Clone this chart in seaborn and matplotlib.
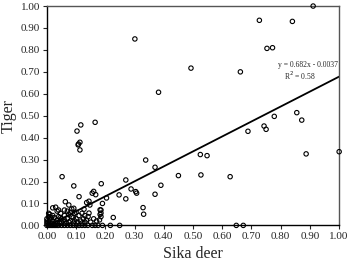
import numpy as np
import seaborn as sns
import matplotlib.pyplot as plt

# sika deer (x) vs tiger (y) occupancy
deer_high = [0.911, 0.727, 0.840, 0.753, 0.772, 0.493, 0.662, 0.301, 0.382,
             0.116, 0.165, 0.103, 0.108, 0.113, 0.107, 0.113]
tiger_high = [1.000, 0.935, 0.930, 0.807, 0.810, 0.717, 0.700, 0.850, 0.607,
              0.458, 0.470, 0.430, 0.371, 0.379, 0.367, 0.344]

deer_mid = [0.778, 0.855, 0.872, 0.743, 0.750, 0.688, 0.525, 0.548, 0.527,
            0.627, 0.887, 1.000, 0.450, 0.648, 0.672, 0.338, 0.370, 0.270,
            0.288, 0.304, 0.307, 0.390, 0.370, 0.247, 0.270, 0.204, 0.186,
            0.190, 0.329, 0.331, 0.227, 0.217, 0.249, 0.052, 0.092, 0.110]
tiger_mid = [0.497, 0.514, 0.480, 0.453, 0.438, 0.429, 0.323, 0.318, 0.230,
             0.222, 0.326, 0.336, 0.227, 0.000, 0.000, 0.298, 0.265, 0.207,
             0.166, 0.154, 0.147, 0.183, 0.142, 0.139, 0.121, 0.125, 0.190,
             0.100, 0.081, 0.051, 0.036, 0.000, 0.000, 0.222, 0.180, 0.131]

deer_low = [0.155, 0.167, 0.160, 0.144, 0.136, 0.147, 0.182, 0.185, 0.182,
            0.144, 0.141, 0.063, 0.030, 0.075, 0.092, 0.047, 0.006, 0.006,
            0.127, 0.120, 0.185, 0.185, 0.180, 0.170, 0.160, 0.150]
tiger_low = [0.147, 0.140, 0.155, 0.110, 0.104, 0.093, 0.071, 0.056, 0.050,
             0.056, 0.040, 0.108, 0.083, 0.093, 0.078, 0.055, 0.055, 0.040,
             0.074, 0.055, 0.070, 0.040, 0.025, 0.020, 0.030, 0.015]

deer_zero = [0.000, 0.005, 0.010, 0.015, 0.020, 0.025, 0.030, 0.035, 0.040,
             0.050, 0.060, 0.070, 0.080, 0.090, 0.100, 0.110, 0.120, 0.130,
             0.140, 0.155, 0.165, 0.175, 0.190]
tiger_zero = [0.0] * len(deer_zero)

deer_cluster = [0.000, 0.000, 0.000, 0.005, 0.010, 0.015, 0.020, 0.025, 0.030,
                0.035, 0.040, 0.045, 0.050, 0.055, 0.060, 0.065, 0.070, 0.075,
                0.080, 0.085, 0.090, 0.095, 0.100, 0.105, 0.110, 0.115, 0.125,
                0.130, 0.135, 0.120, 0.080, 0.060, 0.100, 0.035, 0.020, 0.010,
                0.045, 0.075, 0.095, 0.015, 0.025, 0.050, 0.130, 0.090, 0.070,
                0.020, 0.040, 0.085, 0.060]
tiger_cluster = [0.010, 0.020, 0.030, 0.015, 0.025, 0.010, 0.020, 0.035, 0.015,
                 0.025, 0.040, 0.010, 0.030, 0.020, 0.045, 0.010, 0.030, 0.050,
                 0.020, 0.040, 0.010, 0.055, 0.030, 0.015, 0.045, 0.020, 0.030,
                 0.015, 0.025, 0.010, 0.060, 0.070, 0.060, 0.065, 0.045, 0.050,
                 0.035, 0.015, 0.020, 0.035, 0.005, 0.015, 0.045, 0.035, 0.065,
                 0.080, 0.070, 0.075, 0.025]

deer = deer_high + deer_mid + deer_low + deer_zero + deer_cluster
tiger = tiger_high + tiger_mid + tiger_low + tiger_zero + tiger_cluster

slope = 0.682
intercept = -0.0037
line_x = np.array([0.0, 1.0])

sns.set_style("ticks")
plt.rcParams["font.family"] = ["Liberation Serif", "DejaVu Serif"]

fig, ax = plt.subplots(figsize=(3.5, 2.63), dpi=100)
fig.subplots_adjust(left=0.134, right=0.969, top=0.977, bottom=0.143)

sns.scatterplot(x=deer, y=tiger, ax=ax, s=10, facecolor="none",
                edgecolor="black", linewidth=0.8, clip_on=False, zorder=3)
ax.plot(line_x, slope * line_x + intercept, color="black", lw=1.3, zorder=2)

ax.set_xlim(0, 1)
ax.set_ylim(0, 1)
ticks = np.round(np.arange(0, 1.01, 0.1), 2)
ax.set_xticks(ticks, [f"{t:.2f}" for t in ticks])
ax.set_yticks(ticks, [f"{t:.2f}" for t in ticks])
ax.tick_params(labelsize=8, length=3, width=0.8, pad=2, direction="out")

for side in ["left", "bottom"]:
    ax.spines[side].set_color("black")
    ax.spines[side].set_linewidth(1.0)
for side in ["top", "right"]:
    ax.spines[side].set_color("#555555")
    ax.spines[side].set_linewidth(1.0)

ax.set_xlabel("Sika deer", fontsize=11.5, labelpad=3)
ax.set_ylabel("Tiger", fontsize=11.5, labelpad=3)

ax.text(0.895, 0.73, "y = 0.682x - 0.0037", fontsize=5.5, ha="center", va="center")
ax.text(0.865, 0.68, "R$^2$ = 0.58", fontsize=5.5, ha="center", va="center")

fig.savefig("out.png", dpi=100)
